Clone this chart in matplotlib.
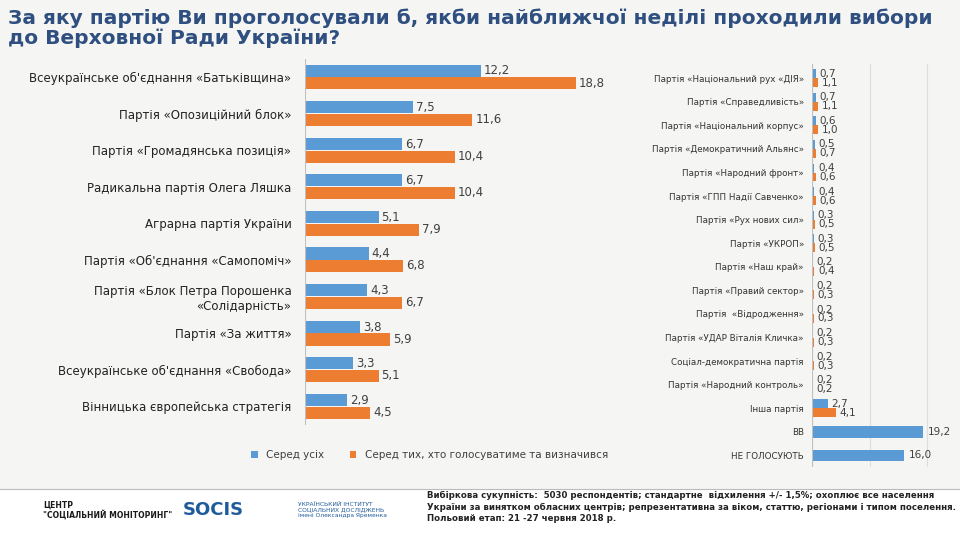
import matplotlib.pyplot as plt
import numpy as np

# left panel data
left_labels = ["Всеукраїнське об'єднання «Батьківщина»", "Партія «Опозиційний блок»",
               "Партія «Громадянська позиція»", "Радикальна партія Олега Ляшка",
               "Аграрна партія України", "Партія «Об'єднання «Самопоміч»",
               "Партія «Блок Петра Порошенка\n«Солідарність»", "Партія «За життя»",
               "Всеукраїнське об'єднання «Свобода»", "Вінницька європейська стратегія"]
left_all = [12.2, 7.5, 6.7, 6.7, 5.1, 4.4, 4.3, 3.8, 3.3, 2.9]
left_dec = [18.8, 11.6, 10.4, 10.4, 7.9, 6.8, 6.7, 5.9, 5.1, 4.5]

# right panel data
right_labels = ["Партія «Національний рух «ДІЯ»", "Партія «Справедливість»",
                "Партія «Національний корпус»", "Партія «Демократичний Альянс»",
                "Партія «Народний фронт»", "Партія «ГПП Надії Савченко»",
                "Партія «Рух нових сил»", "Партія «УКРОП»", "Партія «Наш край»",
                "Партія «Правий сектор»", "Партія  «Відродження»",
                "Партія «УДАР Віталія Кличка»", "Соціал-демократична партія",
                "Партія «Народний контроль»", "Інша партія", "ВВ", "НЕ ГОЛОСУЮТЬ"]
right_all = [0.7, 0.7, 0.6, 0.5, 0.4, 0.4, 0.3, 0.3, 0.2, 0.2, 0.2, 0.2, 0.2, 0.2, 2.7, 19.2, 16.0]
right_dec = [1.1, 1.1, 1.0, 0.7, 0.6, 0.6, 0.5, 0.5, 0.4, 0.3, 0.3, 0.3, 0.3, 0.2, 4.1, None, None]

BLUE = "#5b9bd5"
ORANGE = "#ed7d31"
BG = "#f5f5f3"
TXT = "#404040"

def fmt(v):
    return f"{v:.1f}".replace(".", ",")

fig = plt.figure(figsize=(9.6, 5.34), dpi=100)
fig.patch.set_facecolor(BG)

fig.text(0.008, 0.985, "За яку партію Ви проголосували б, якби найближчої неділі проходили вибори\nдо Верховної Ради України?",
         ha="left", va="top", fontsize=14.5, fontweight="bold", color="#2e4f7f", linespacing=1.05)

# left panel
ax = fig.add_axes([0.318, 0.205, 0.3, 0.685])
ax.set_facecolor("none")
y = np.arange(len(left_labels))
h = 0.33
ax.barh(y - h / 2 - 0.01, left_all, h, color=BLUE, label="Серед усіх")
ax.barh(y + h / 2 + 0.01, left_dec, h, color=ORANGE, label="Серед тих, хто голосуватиме та визначився")
for i in range(len(y)):
    ax.text(left_all[i] + 0.2, y[i] - h / 2, fmt(left_all[i]), va="center", fontsize=8.5, color=TXT)
    ax.text(left_dec[i] + 0.2, y[i] + h / 2, fmt(left_dec[i]), va="center", fontsize=8.5, color=TXT)
ax.set_ylim(len(y) - 0.5, -0.5)
ax.set_xlim(0, 20)
ax.set_yticks(y)
ax.set_yticklabels(left_labels, fontsize=8.5, color="#222222")
ax.set_xticks([])
ax.tick_params(axis="y", length=0, pad=10)
for s in ax.spines.values():
    s.set_visible(False)
ax.axvline(0, color="#bfbfbf", lw=0.8)
ax.legend(loc="upper left", bbox_to_anchor=(-0.22, -0.045), ncol=2, frameon=False, fontsize=7.5,
          handlelength=0.6, handleheight=0.6, columnspacing=2.5, labelcolor=TXT)

# right panel
ax2 = fig.add_axes([0.846, 0.125, 0.15, 0.755])
ax2.set_facecolor("none")
y2 = np.arange(len(right_labels))
h2 = 0.38
for i in range(len(y2)):
    if right_dec[i] is None:
        ax2.barh(y2[i], right_all[i], 0.5, color=BLUE)
        ax2.text(right_all[i] + 0.8, y2[i], fmt(right_all[i]), va="center", fontsize=7.5, color=TXT)
    else:
        ax2.barh(y2[i] - h2 / 2, right_all[i], h2, color=BLUE)
        ax2.barh(y2[i] + h2 / 2, right_dec[i], h2, color=ORANGE)
        ax2.text(right_all[i] + 0.6, y2[i] - h2 / 2, fmt(right_all[i]), va="center", fontsize=7.5, color=TXT)
        ax2.text(right_dec[i] + 0.6, y2[i] + h2 / 2, fmt(right_dec[i]), va="center", fontsize=7.5, color=TXT)
ax2.set_ylim(len(y2) - 0.5, -0.6)
ax2.set_xlim(0, 25)
ax2.set_xticks([0, 10, 20])
ax2.xaxis.grid(True, color="#dddddd", lw=0.8)
ax2.set_axisbelow(True)
ax2.tick_params(axis="x", length=0, labelbottom=False)
ax2.set_yticks(y2)
ax2.set_yticklabels(right_labels, fontsize=6.3, color="#333333")
ax2.tick_params(axis="y", length=0, pad=6)
for s in ax2.spines.values():
    s.set_visible(False)
ax2.axvline(0, color="#bfbfbf", lw=0.8)

# footer
fig.add_artist(plt.Line2D([0, 1], [0.085, 0.085], color="#bbbbbb", lw=0.8))
fig.patches.append(plt.Rectangle((0, 0), 1, 0.083, transform=fig.transFigure, color="white", zorder=-1))
fig.text(0.045, 0.045, "ЦЕНТР\n\"СОЦІАЛЬНИЙ МОНІТОРИНГ\"", ha="left", va="center", fontsize=5.5, fontweight="bold",
         color="#1a1a1a", linespacing=1.1)
fig.text(0.19, 0.045, "SOCIS", ha="left", va="center", fontsize=13, fontweight="bold", color="#1f5a9c")
fig.text(0.31, 0.045, "УКРАЇНСЬКИЙ ІНСТИТУТ\nСОЦІАЛЬНИХ ДОСЛІДЖЕНЬ\nімені Олександра Яременка",
         ha="left", va="center", fontsize=4.3, color="#1f5a9c", linespacing=1.1)
fig.text(0.445, 0.08, "Вибіркова сукупність:  5030 респондентів; стандартне  відхилення +/- 1,5%; охоплює все населення\n"
         "України за винятком обласних центрів; репрезентативна за віком, статтю, регіонами і типом поселення.\n"
         "Польовий етап: 21 -27 червня 2018 р.",
         ha="left", va="top", fontsize=6.2, color="#222222", fontweight="bold", linespacing=1.3)

fig.savefig("out.png", dpi=100, facecolor=fig.get_facecolor())
